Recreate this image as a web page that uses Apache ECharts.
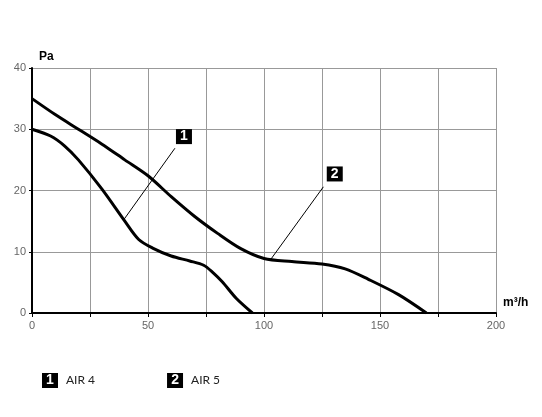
<!DOCTYPE html>
<html><head><meta charset="utf-8">
<script src="https://cdn.jsdelivr.net/npm/echarts@6/dist/echarts.min.js"></script>
<style>html,body{margin:0;padding:0;background:#fff}#c{width:542px;height:417px}</style>
</head><body><div id="c"></div>
<script>
const seriesNames = ['AIR 4', 'AIR 5'];
const air4 = [[0,30],[8,28.9],[14,27.3],[20,25],[30,20.3],[40,15],[46,12],[52,10.6],[60,9.3],[68,8.5],[74,7.8],[78,6.6],[82,5.1],[88,2.4],[95,0]];
const air5 = [[0,35],[10,32.4],[20,30],[30,27.6],[40,25],[50,22.4],[60,19],[70,15.8],[80,13],[90,10.5],[100,8.9],[112,8.4],[125,8.0],[135,7.2],[145,5.5],[158,3],[170,0]];
const xLabels = [0, 50, 100, 150, 200];
const yLabels = [0, 10, 20, 30, 40];

const chart = echarts.init(document.getElementById('c'));
const font = 'Liberation Sans, Arial, sans-serif';
function boxPoint(num, coord) {
  return {coord: coord, symbol: 'rect', symbolSize: [16, 15], itemStyle: {color: '#000'},
    label: {show: true, formatter: String(num), color: '#fff', fontWeight: 'bold', fontSize: 14, fontFamily: font, position: 'inside'}};
}
function mkSeries(name, data, num, boxC, lineA, lineB) {
  return {
    name: name, type: 'line', data: data, smooth: 0.3, showSymbol: false, symbol: 'none',
    lineStyle: {color: '#000', width: 3}, itemStyle: {color: '#000'}, animation: false, z: 3,
    markPoint: {animation: false, data: [boxPoint(num, boxC)]},
    markLine: {animation: false, symbol: 'none', silent: true, label: {show: false},
      lineStyle: {color: '#000', width: 1, type: 'solid'}, data: [[{coord: lineA}, {coord: lineB}]]}
  };
}
chart.setOption({
  backgroundColor: '#fff',
  animation: false,
  grid: {left: 32, right: 46, top: 68, bottom: 104},
  legend: {
    left: 42, top: 373, padding: 0, icon: 'none', itemWidth: 0, itemHeight: 0, itemGap: 72,
    data: seriesNames,
    formatter: function (n) { const i = seriesNames.indexOf(n) + 1; return '{b|' + i + '}{t|' + n + '}'; },
    textStyle: {padding: [0, 0, 0, -5], rich: {
      b: {backgroundColor: '#000', color: '#fff', fontWeight: 'bold', fontSize: 14, width: 16, height: 15, lineHeight: 15, align: 'center', fontFamily: font},
      t: {color: '#222', fontSize: 12, padding: [0, 0, 0, 8], fontFamily: 'Lato, sans-serif'}
    }}
  },
  xAxis: {
    type: 'value', min: 0, max: 200, interval: 25,
    name: 'm³/h', nameLocation: 'end', nameGap: 7,
    nameTextStyle: {color: '#000', fontWeight: 'bold', fontSize: 12, fontFamily: font, verticalAlign: 'bottom', padding: [0, 0, 4, 0]},
    axisLine: {show: true, lineStyle: {color: '#000', width: 2}},
    axisTick: {show: true, length: 4, lineStyle: {color: '#000', width: 1}},
    axisLabel: {color: '#666', fontSize: 11, fontFamily: font, margin: 7,
      formatter: v => xLabels.includes(v) ? String(v) : ''},
    splitLine: {show: true, lineStyle: {color: '#999', width: 1}}
  },
  yAxis: {
    type: 'value', min: 0, max: 40, interval: 10,
    name: 'Pa', nameLocation: 'end', nameGap: 5,
    nameTextStyle: {color: '#000', fontWeight: 'bold', fontSize: 12, fontFamily: font, align: 'left', padding: [0, 0, 0, 7]},
    axisLine: {show: true, lineStyle: {color: '#000', width: 2}},
    axisTick: {show: true, length: 3, lineStyle: {color: '#000'}},
    axisLabel: {color: '#666', fontSize: 11, fontFamily: font, margin: 6,
      formatter: v => yLabels.includes(v) ? String(v) : ''},
    splitLine: {show: true, lineStyle: {color: '#999', width: 1}}
  },
  series: [
    mkSeries(seriesNames[0], air4, 1, [65.5, 28.8], [39.5, 15.2], [61.6, 26.9]),
    mkSeries(seriesNames[1], air5, 2, [130.5, 22.7], [103, 8.8], [125.6, 20.6])
  ]
});
</script></body></html>
